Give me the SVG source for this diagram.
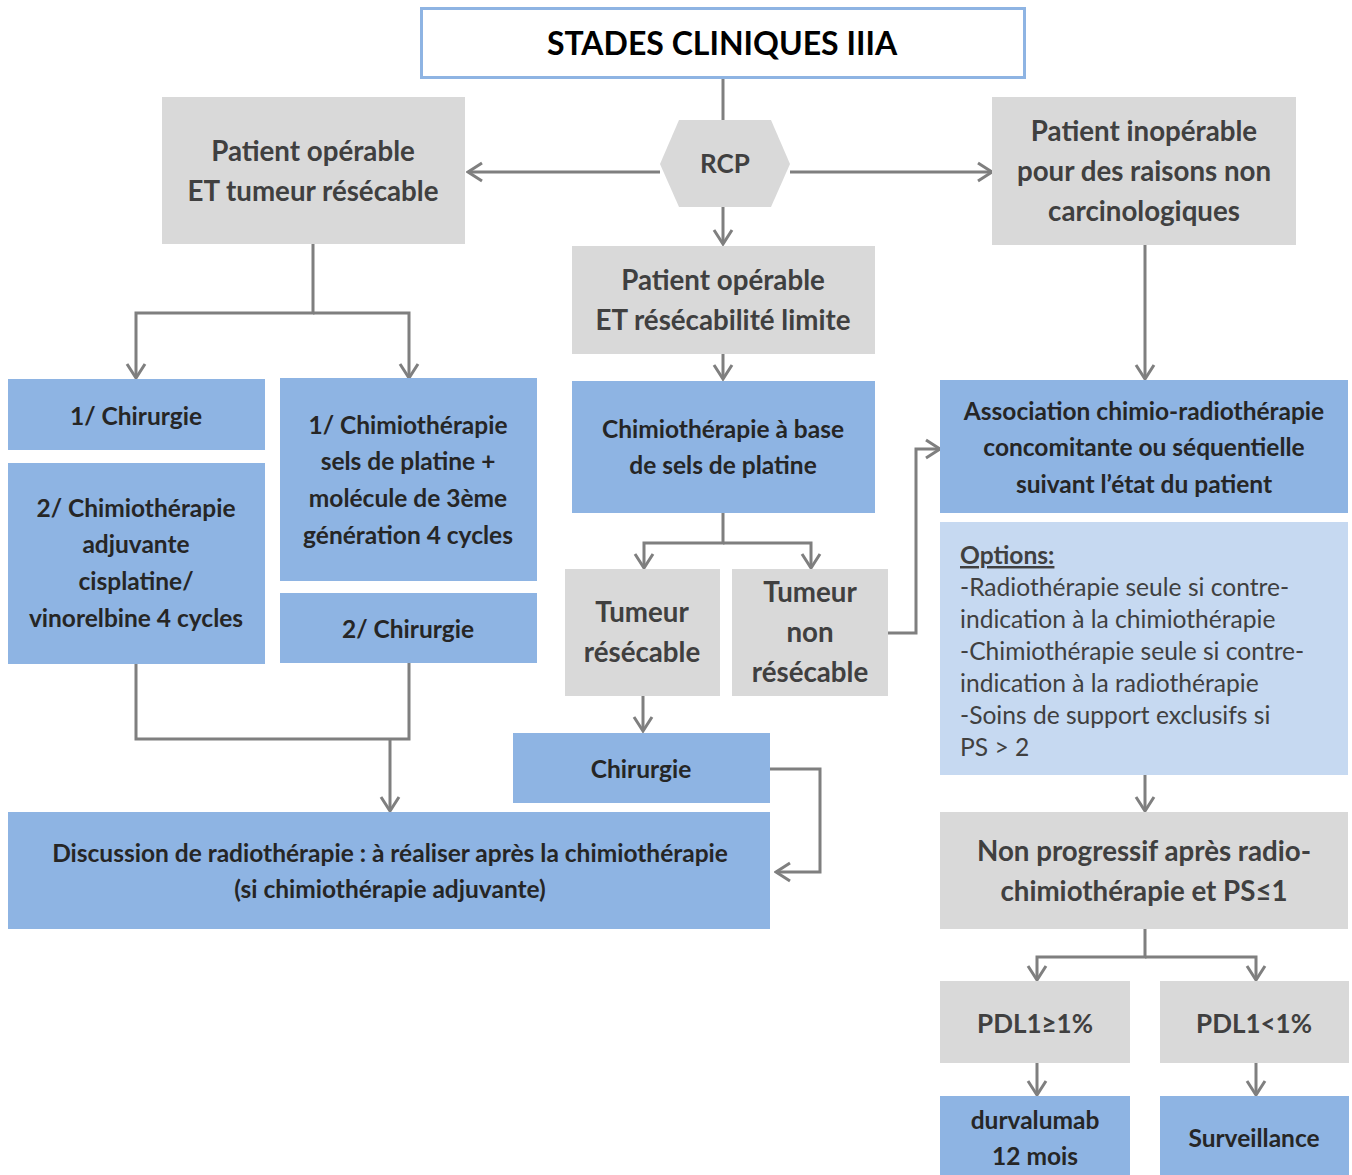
<svg xmlns="http://www.w3.org/2000/svg" width="1352" height="1175" viewBox="0 0 1352 1175">
<defs>
<style>
.g{fill:#D9D9D9}
.b{fill:#8EB4E3}
.lb{fill:#C6D9F1}
.t{font-family:Lato,"Open Sans","Liberation Sans",sans-serif;font-weight:bold;text-anchor:middle}
.tg{fill:#404040;font-size:27.7px}
.tb{fill:#262626;font-size:24.5px}
.c{fill:none;stroke:#7F7F7F;stroke-width:3}
.o{font-family:Lato,"Open Sans","Liberation Sans",sans-serif;fill:#404040;font-size:24.6px}
</style>
<marker id="a" markerUnits="userSpaceOnUse" markerWidth="18" markerHeight="22" viewBox="0 0 18 22" refX="16" refY="11" orient="auto">
<path d="M2,2 L16,11 L2,20" fill="none" stroke="#7F7F7F" stroke-width="3"/>
</marker>
</defs>
<rect width="1352" height="1175" fill="#fff"/>
<g id="connectors">
<path class="c" d="M723,78 V120"/>
<path class="c" d="M660,172 H468" marker-end="url(#a)"/>
<path class="c" d="M790,172 H992" marker-end="url(#a)"/>
<path class="c" d="M723,207 V244" marker-end="url(#a)"/>
<path class="c" d="M313,244 V313 H136 V378" marker-end="url(#a)"/>
<path class="c" d="M313,313 H409 V378" marker-end="url(#a)"/>
<path class="c" d="M136,664 V739 H409 V663"/>
<path class="c" d="M390,739 V811" marker-end="url(#a)"/>
<path class="c" d="M723,354 V379" marker-end="url(#a)"/>
<path class="c" d="M723,513 V543 H644 V568" marker-end="url(#a)"/>
<path class="c" d="M723,543 H811 V568" marker-end="url(#a)"/>
<path class="c" d="M888,633 H916 V449 H940" marker-end="url(#a)"/>
<path class="c" d="M643,696 V731" marker-end="url(#a)"/>
<path class="c" d="M770,769 H820 V872 H776" marker-end="url(#a)"/>
<path class="c" d="M1145,245 V379" marker-end="url(#a)"/>
<path class="c" d="M1145,775 V811" marker-end="url(#a)"/>
<path class="c" d="M1145,929 V957 H1037 V980" marker-end="url(#a)"/>
<path class="c" d="M1145,957 H1256 V980" marker-end="url(#a)"/>
<path class="c" d="M1037,1063 V1095" marker-end="url(#a)"/>
<path class="c" d="M1256,1063 V1095" marker-end="url(#a)"/>
</g>
<g id="title">
<rect x="421.5" y="8.5" width="603" height="69" fill="#fff" stroke="#8EB4E3" stroke-width="3"/>
<text class="t" x="722" y="55" font-size="32" fill="#000">STADES CLINIQUES IIIA</text>
</g>
<g id="rcp">
<polygon class="g" points="679,120 771,120 790,164 771,207 679,207 660,164"/>
<text class="t tg" x="725" y="173" style="font-size:26px">RCP</text>
</g>
<g id="operable">
<rect class="g" x="162" y="97" width="303" height="147"/>
<text class="t tg" x="313" y="161">Patient opérable</text>
<text class="t tg" x="313" y="201">ET tumeur résécable</text>
</g>
<g id="inoperable">
<rect class="g" x="992" y="97" width="304" height="148"/>
<text class="t tg" x="1144" y="141">Patient inopérable</text>
<text class="t tg" x="1144" y="181">pour des raisons non</text>
<text class="t tg" x="1144" y="221">carcinologiques</text>
</g>
<g id="limite">
<rect class="g" x="572" y="246" width="303" height="108"/>
<text class="t tg" x="723" y="290">Patient opérable</text>
<text class="t tg" x="723" y="330">ET résécabilité limite</text>
</g>
<g id="chir1">
<rect class="b" x="8" y="379" width="257" height="71"/>
<text class="t tb" x="136" y="425">1/ Chirurgie</text>
</g>
<g id="chimio2">
<rect class="b" x="8" y="463" width="257" height="201"/>
<text class="t tb" x="136" y="517">2/ Chimiothérapie</text>
<text class="t tb" x="136" y="553">adjuvante</text>
<text class="t tb" x="136" y="590">cisplatine/</text>
<text class="t tb" x="136" y="627">vinorelbine 4 cycles</text>
</g>
<g id="chimio1">
<rect class="b" x="280" y="378" width="257" height="203"/>
<text class="t tb" x="408" y="434">1/ Chimiothérapie</text>
<text class="t tb" x="408" y="470">sels de platine +</text>
<text class="t tb" x="408" y="507">molécule de 3ème</text>
<text class="t tb" x="408" y="544">génération 4 cycles</text>
</g>
<g id="chir2">
<rect class="b" x="280" y="593" width="257" height="70"/>
<text class="t tb" x="408" y="638">2/ Chirurgie</text>
</g>
<g id="discussion">
<rect class="b" x="8" y="812" width="762" height="117"/>
<text class="t tb" x="390" y="862">Discussion de radiothérapie : à réaliser après la chimiothérapie</text>
<text class="t tb" x="390" y="898">(si chimiothérapie adjuvante)</text>
</g>
<g id="chimiobase">
<rect class="b" x="572" y="381" width="303" height="132"/>
<text class="t tb" x="723" y="438">Chimiothérapie à base</text>
<text class="t tb" x="723" y="474">de sels de platine</text>
</g>
<g id="resecable">
<rect class="g" x="565" y="569" width="155" height="127"/>
<text class="t tg" x="642" y="622">Tumeur</text>
<text class="t tg" x="642" y="662">résécable</text>
</g>
<g id="nonresecable">
<rect class="g" x="732" y="569" width="156" height="127"/>
<text class="t tg" x="810" y="602">Tumeur</text>
<text class="t tg" x="810" y="642">non</text>
<text class="t tg" x="810" y="682">résécable</text>
</g>
<g id="chirurgie">
<rect class="b" x="513" y="733" width="257" height="70"/>
<text class="t tb" x="641" y="778">Chirurgie</text>
</g>
<g id="association">
<rect class="b" x="940" y="380" width="408" height="133"/>
<text class="t tb" x="1144" y="420">Association chimio-radiothérapie</text>
<text class="t tb" x="1144" y="456">concomitante ou séquentielle</text>
<text class="t tb" x="1144" y="493">suivant l’état du patient</text>
</g>
<g id="options">
<rect class="lb" x="940" y="522" width="408" height="253"/>
<text class="o" x="960" y="564" font-weight="bold" text-decoration="underline">Options:</text>
<text class="o" x="960" y="596">-Radiothérapie seule si contre-</text>
<text class="o" x="960" y="628">indication à la chimiothérapie</text>
<text class="o" x="960" y="660">-Chimiothérapie seule si contre-</text>
<text class="o" x="960" y="692">indication à la radiothérapie</text>
<text class="o" x="960" y="724">-Soins de support exclusifs si</text>
<text class="o" x="960" y="756">PS &gt; 2</text>
</g>
<g id="nonprog">
<rect class="g" x="940" y="812" width="408" height="117"/>
<text class="t tg" x="1144" y="861">Non progressif après radio-</text>
<text class="t tg" x="1144" y="901">chimiothérapie et PS≤1</text>
</g>
<g id="pdlhigh">
<rect class="g" x="940" y="981" width="190" height="82"/>
<text class="t tg" x="1035" y="1033" style="font-size:26px">PDL1≥1%</text>
</g>
<g id="pdllow">
<rect class="g" x="1160" y="981" width="189" height="82"/>
<text class="t tg" x="1254" y="1033" style="font-size:26px">PDL1&lt;1%</text>
</g>
<g id="durvalumab">
<rect class="b" x="940" y="1096" width="190" height="79"/>
<text class="t tb" x="1035" y="1129">durvalumab</text>
<text class="t tb" x="1035" y="1165">12 mois</text>
</g>
<g id="surveillance">
<rect class="b" x="1160" y="1096" width="189" height="79"/>
<text class="t tb" x="1254" y="1147">Surveillance</text>
</g>
</svg>
